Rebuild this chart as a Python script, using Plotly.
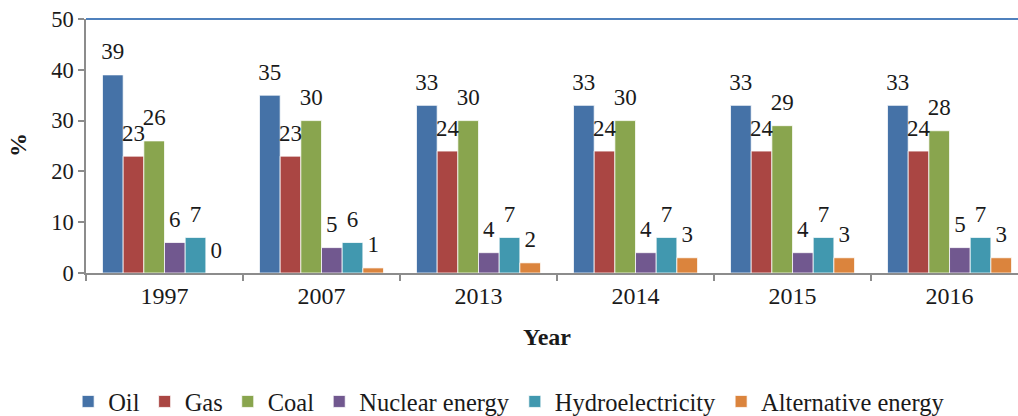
import plotly.graph_objects as go

years = ['1997', '2007', '2013', '2014', '2015', '2016']
oil = [39, 35, 33, 33, 33, 33]
gas = [23, 23, 24, 24, 24, 24]
coal = [26, 30, 30, 30, 29, 28]
nuclear = [6, 5, 4, 4, 4, 5]
hydro = [7, 6, 7, 7, 7, 7]
alternative = [0, 1, 2, 3, 3, 3]

series_names = ['Oil', 'Gas', 'Coal', 'Nuclear energy', 'Hydroelectricity', 'Alternative energy']
series_values = [oil, gas, coal, nuclear, hydro, alternative]
colors = ['#4572A7', '#AA4643', '#89A54E', '#71588F', '#4198AF', '#DB843D']

FONT = 'Liberation Serif, Times New Roman, serif'
TXT = '#1a1a1a'
GAP = 0.21

fig = go.Figure()
for name, vals, col in zip(series_names, series_values, colors):
    fig.add_trace(go.Bar(
        x=years, y=vals, name=name,
        marker=dict(color=col, line=dict(color='rgba(255,255,255,0.75)', width=1)),
        hoverinfo='x+y+name',
    ))
for name, vals in zip(series_names, series_values):
    fig.add_trace(go.Scatter(
        x=years, y=vals, mode='markers+text', text=[str(v) for v in vals],
        textposition='top center',
        textfont=dict(family=FONT, size=23, color=TXT),
        marker=dict(size=14, opacity=0),
        showlegend=False, hoverinfo='skip', cliponaxis=False,
    ))

fig.update_layout(
    width=1018, height=424,
    margin=dict(l=86, r=0, t=19, b=146),
    paper_bgcolor='white', plot_bgcolor='white',
    barmode='group', bargap=GAP,
    scattermode='group', scattergap=GAP,
    font=dict(family=FONT, color=TXT),
    legend=dict(orientation='h', x=0.454, xanchor='center', y=-0.508, yanchor='middle',
                font=dict(family=FONT, size=24.5, color=TXT), traceorder='normal'),
    xaxis=dict(type='category', range=[-0.5, 5.436], tickson='boundaries', ticks='outside',
               ticklen=6, tickcolor='#8c8c8c', tickwidth=1.5, showline=True, linecolor='#8c8c8c',
               linewidth=1.5, tickfont=dict(family=FONT, size=24, color=TXT), showgrid=False),
    yaxis=dict(range=[0, 50], dtick=10, ticks='outside', ticklen=6, tickcolor='#8c8c8c',
               tickwidth=1.5, showline=True, linecolor='#8c8c8c', linewidth=1.5,
               ticklabeloverflow='allow',
               tickfont=dict(family=FONT, size=22.5, color=TXT), showgrid=False, zeroline=False),
    shapes=[dict(type='line', xref='paper', yref='paper', x0=0, x1=1, y0=1, y1=1,
                 line=dict(color='#4F81BD', width=2), layer='above')],
    annotations=[
        dict(text='<b>Year</b>', xref='paper', yref='paper', x=0.495, y=-0.252,
             xanchor='center', yanchor='middle', showarrow=False,
             font=dict(family=FONT, size=24, color=TXT)),
        dict(text='<b>%</b>', xref='paper', yref='paper', x=-0.073, y=0.504,
             xanchor='center', yanchor='middle', showarrow=False, textangle=-90,
             font=dict(family=FONT, size=24, color=TXT)),
    ],
)

post = (
    "var d=document.getElementById('{plot_id}');"
    "document.documentElement.style.cssText='margin:0;padding:0;overflow:hidden;';"
    "document.body.style.cssText='margin:0;padding:0;overflow:hidden;';"
    "d.style.position='absolute';d.style.left='0px';d.style.top='0px';"
)

fig.write_html('out.html', config={'displayModeBar': False}, post_script=post)
